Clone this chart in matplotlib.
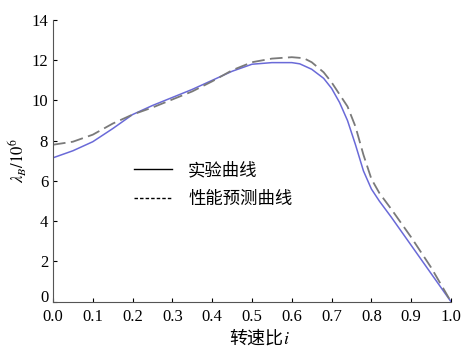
import matplotlib
matplotlib.use("Agg")
import matplotlib.pyplot as plt
from matplotlib.lines import Line2D
from matplotlib.transforms import ScaledTranslation

plt.rcParams['font.family'] = ['Liberation Serif', 'Noto Sans CJK SC']
plt.rcParams['mathtext.fontset'] = 'stix'

# speed ratio i and lambda_B / 1e6
x_exp = [0.0, 0.05, 0.1, 0.15, 0.2, 0.25, 0.3, 0.35, 0.4, 0.45, 0.5, 0.55, 0.6,
         0.62, 0.65, 0.68, 0.7, 0.72, 0.74, 0.76, 0.78, 0.8, 0.82, 0.85, 0.9, 0.95, 1.0]
y_exp = [7.15, 7.5, 7.95, 8.6, 9.3, 9.75, 10.15, 10.55, 11.0, 11.45, 11.8, 11.88, 11.88,
         11.82, 11.55, 11.1, 10.6, 9.9, 9.0, 7.8, 6.5, 5.6, 5.0, 4.2, 2.8, 1.4, 0.0]

x_pred = [0.0, 0.05, 0.1, 0.15, 0.2, 0.25, 0.3, 0.35, 0.4, 0.45, 0.5, 0.55, 0.6,
          0.63, 0.65, 0.68, 0.7, 0.72, 0.74, 0.76, 0.78, 0.8, 0.82, 0.85, 0.9, 0.95, 1.0]
y_pred = [7.8, 7.95, 8.3, 8.85, 9.3, 9.65, 10.05, 10.45, 10.95, 11.5, 11.9, 12.08, 12.15,
          12.1, 11.9, 11.4, 10.9, 10.3, 9.7, 8.7, 7.3, 6.1, 5.4, 4.6, 3.2, 1.7, 0.0]

xticks = [0.0, 0.1, 0.2, 0.3, 0.4, 0.5, 0.6, 0.7, 0.8, 0.9, 1.0]
yticks = [0, 2, 4, 6, 8, 10, 12, 14]

fig = plt.figure(figsize=(4.62, 3.47), dpi=100)
ax = fig.add_axes([0.1147, 0.1305, 0.8615, 0.812])

ax.plot(x_exp, y_exp, color='#6a6ad8', lw=1.1)
ax.plot(x_pred, y_pred, color='#7a7a7a', lw=1.3, dashes=(7, 3))

ax.set_xlim(0, 1.0)
ax.set_ylim(0, 14)
ax.set_xticks(xticks)
ax.set_xticklabels(['%.1f' % t for t in xticks])
ax.set_yticks(yticks)
ax.tick_params(direction='in', length=3, labelsize=12, width=0.8)
ax.tick_params(axis='x', pad=5)
ax.spines['top'].set_visible(False)
ax.spines['right'].set_visible(False)
for s in ['left', 'bottom']:
    ax.spines[s].set_color('#555555')

# lift the "0" on the y axis a little, as in the original
lab0 = ax.get_yticklabels()[0]
lab0.set_transform(lab0.get_transform() + ScaledTranslation(0, 0.055, fig.dpi_scale_trans))

ax.set_ylabel(r'$\lambda_B/10^6$', fontsize=12, labelpad=2)
# x label: chinese text + italic i
fig.text(283 / 462, 1 - 339 / 347, '转速比', fontsize=13, ha='right', va='center',
         family='Noto Sans CJK SC')
fig.text(283 / 462, 1 - 339 / 347, '$i$', fontsize=13, ha='left', va='center')

handles = [Line2D([], [], color='black', lw=1.0),
           Line2D([], [], color='black', lw=1.0, dashes=(2.5, 1.5))]
ax.legend(handles, ['实验曲线', '性能预测曲线'], frameon=False,
          loc='upper left', bbox_to_anchor=(0.165, 0.555), fontsize=12.5,
          handlelength=2.2, handletextpad=0.9, labelspacing=0.65,
          prop={'family': 'Noto Sans CJK SC', 'size': 12.5, 'weight': 'medium'})

fig.savefig('out.png', dpi=100)
